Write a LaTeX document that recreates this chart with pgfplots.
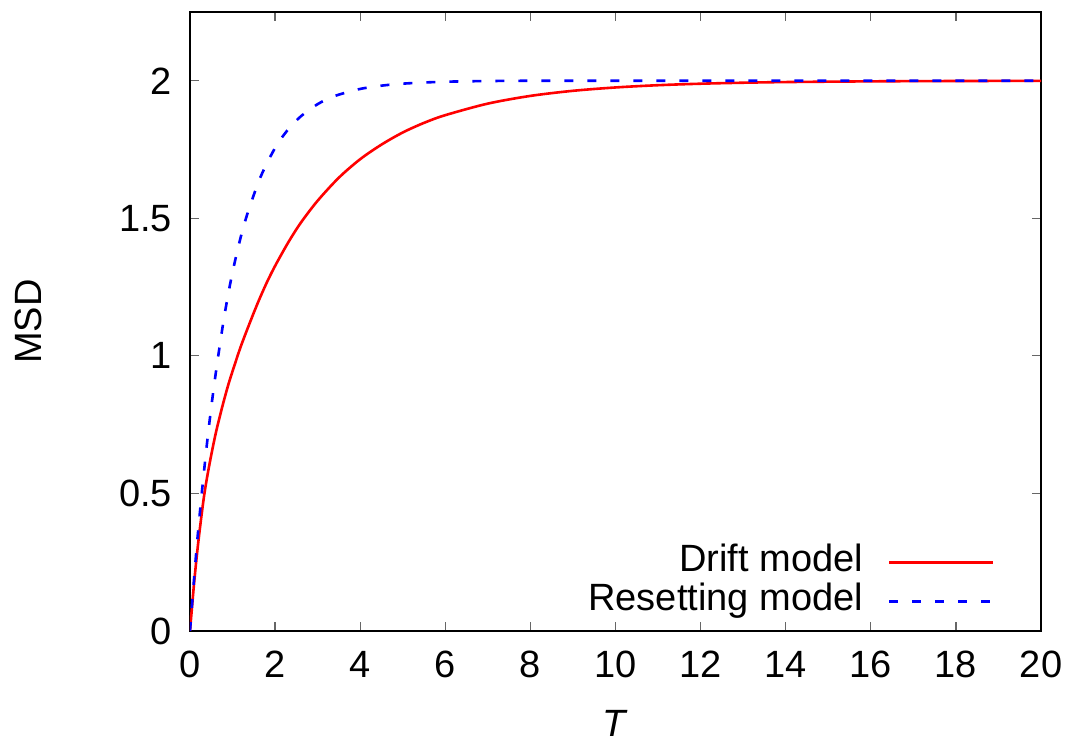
\documentclass[border=0pt]{standalone}
\usepackage{pgfplots}
\pgfplotsset{compat=1.18}
\usepackage{fontspec}
\setmainfont{Liberation Sans}
\newcommand{\lblfont}{\fontsize{19}{22}\selectfont}
\begin{document}
\begin{tikzpicture}
\useasboundingbox (-95pt,-55.5pt) rectangle (439.5pt,315.5pt);
\begin{axis}[
 scale only axis, width=425.5pt, height=309.5pt,
 xmin=0, xmax=20, ymin=0, ymax=2.25,
 xtick={0,2,...,20}, ytick={0,0.5,1,1.5,2},
 axis line style={black, line width=0.8pt},
 tick style={black!60, line width=0.6pt},
 major tick length=4.5pt,
 tick align=inside,
 /pgf/number format/assume math mode=true,
 tick label style={font=\lblfont},
 xticklabel style={yshift=-6.5pt},
 yticklabel style={xshift=-5.5pt},
 label style={font=\lblfont},
 xlabel={\textit{T}}, ylabel={MSD},
 xlabel style={at={(axis description cs:0.5,-0.149)}, anchor=center},
 ylabel style={at={(axis description cs:-0.19,0.5)}, anchor=center},
 legend style={draw=none, fill=none, font=\lblfont,
   at={(axis description cs:0.953,0.016)}, anchor=south east,
   nodes={inner sep=0pt, text height=12pt, text depth=3pt},
   row sep=4.5pt, column sep=12.5pt},
 legend cell align=right, legend plot pos=right,
 legend image code/.code={\draw[#1] (0pt,0pt) -- (52pt,0pt);},
]
\addplot[color={rgb,255:red,255;green,0;blue,0}, line width=1.3pt, smooth] coordinates {
(0,0) (0.1,0.18) (0.2,0.33) (0.33,0.49) (0.45,0.60) (0.6,0.715) (0.75,0.81)
(0.9,0.895) (1.05,0.968) (1.2,1.037) (1.4,1.118) (1.6,1.195) (1.8,1.265)
(2.0,1.327) (2.3,1.41) (2.6,1.483) (3.0,1.564) (3.5,1.648) (4.0,1.715)
(4.5,1.768) (5.0,1.812) (5.5,1.847) (6.0,1.875) (7.0,1.917) (8.0,1.945)
(9.0,1.9635) (10,1.9757) (11,1.9839) (12,1.9893) (13,1.9929) (14,1.9953)
(16,1.9979) (18,1.9991) (20,1.9996)
};
\addlegendentry{Drift model}
\addplot[color={rgb,255:red,0;green,0;blue,255}, line width=1.3pt, smooth, dash pattern=on 4.5pt off 7pt] coordinates {
(0,0) (0.08,0.16) (0.17,0.327) (0.27,0.49) (0.37,0.64) (0.45,0.75) (0.53,0.85)
(0.64,0.975) (0.8,1.138) (0.96,1.274) (1.15,1.406) (1.35,1.517) (1.66,1.651)
(2.0,1.756) (2.29,1.82) (2.6,1.87) (3.0,1.915) (3.39,1.944) (4.02,1.971)
(4.72,1.986) (5.4,1.993) (6.13,1.997) (7,1.999) (8,2.0) (10,2.0) (14,2.0) (20,2.0)
};
\addlegendentry{Resetting model}
\end{axis}
\end{tikzpicture}
\end{document}
